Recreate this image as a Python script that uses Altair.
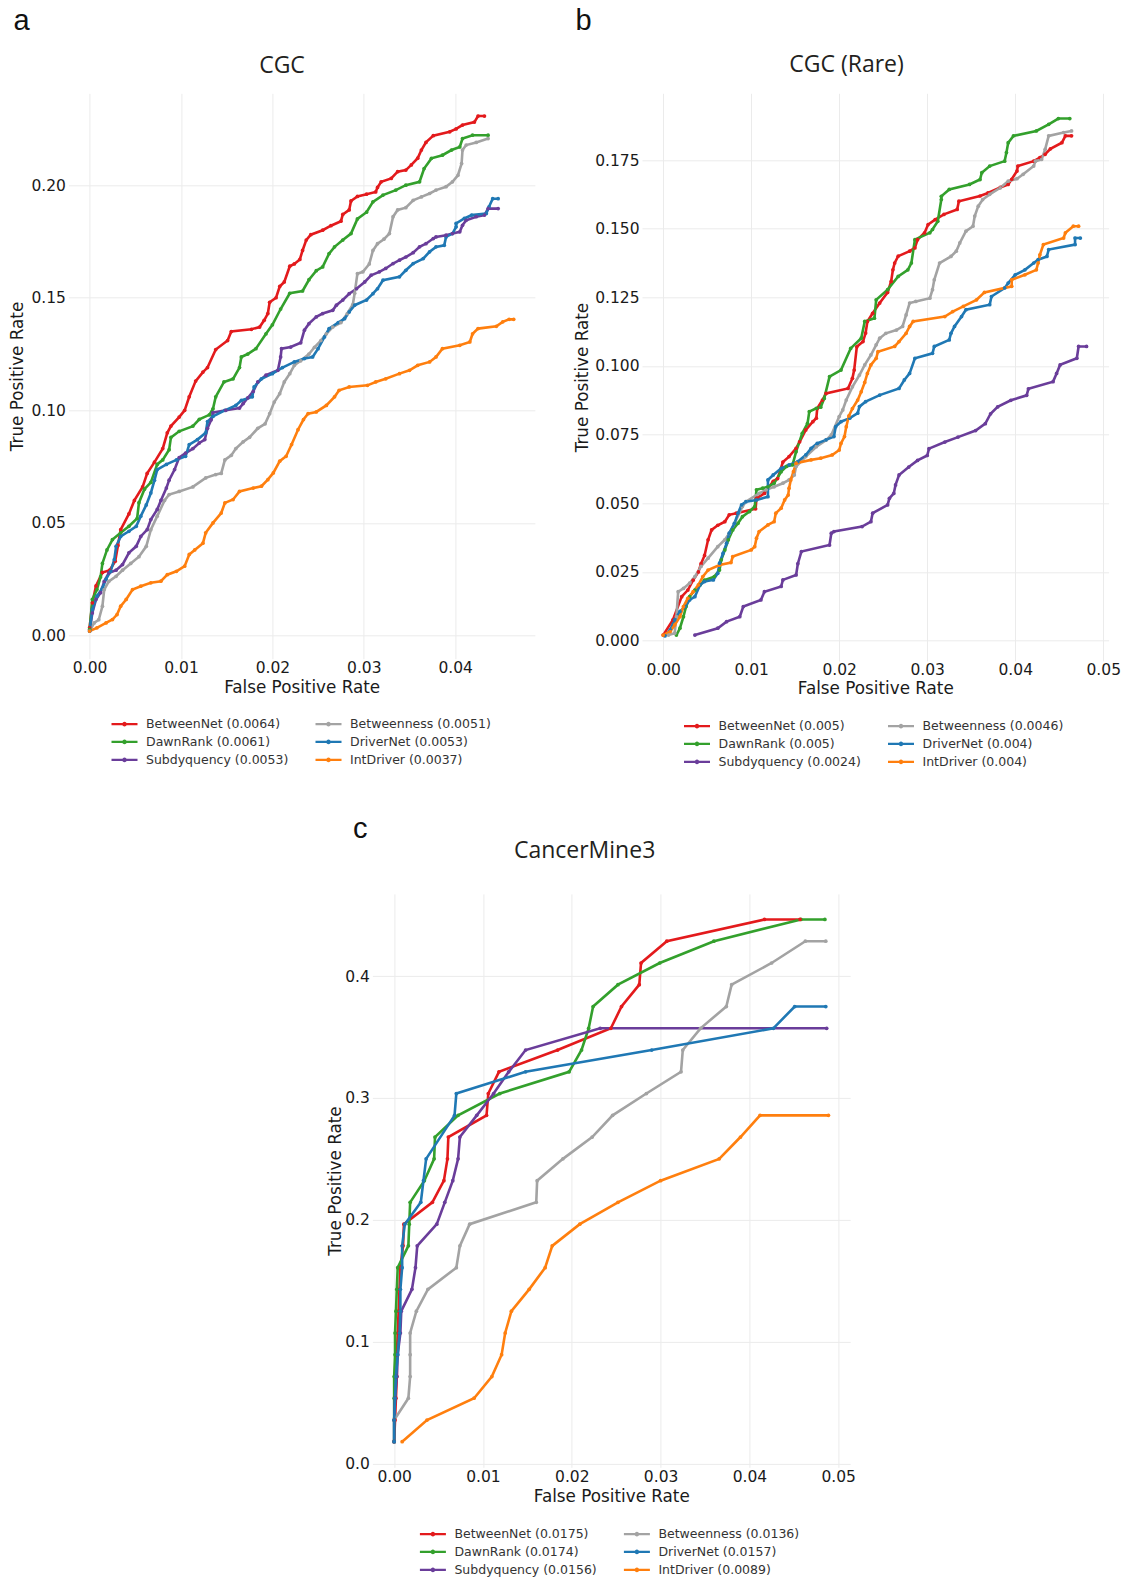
import altair as alt
import pandas as pd

# ---------------------------------------------------------------------------
# Methods, colours and legend layout
# ---------------------------------------------------------------------------
METHODS = ["BetweenNet", "DawnRank", "Subdyquency", "Betweenness", "DriverNet", "IntDriver"]
METHOD_COLORS = ["#e31a1c", "#33a02c", "#6a3d9a", "#a3a3a3", "#1f78b4", "#ff7f0e"]

# partial AUC shown next to each method name
cgc_auc = ["0.0064", "0.0061", "0.0053", "0.0051", "0.0053", "0.0037"]
rare_auc = ["0.005", "0.005", "0.0024", "0.0046", "0.004", "0.004"]
cm3_auc = ["0.0175", "0.0174", "0.0156", "0.0136", "0.0157", "0.0089"]

# ---------------------------------------------------------------------------
# ROC points (false positive rate, true positive rate) -- CGC
# ---------------------------------------------------------------------------
cgc_betweennet = [(0.0000, 0.0034), (0.0003, 0.0145), (0.0007, 0.0220), (0.0014, 0.0280), (0.0022, 0.0290),
                  (0.0028, 0.0330), (0.0031, 0.0400), (0.0034, 0.0470), (0.0043, 0.0540), (0.0049, 0.0600),
                  (0.0058, 0.0660), (0.0063, 0.0720), (0.0071, 0.0770), (0.0080, 0.0830), (0.0085, 0.0900),
                  (0.0089, 0.0930), (0.0098, 0.0970), (0.0104, 0.1000), (0.0109, 0.1060), (0.0116, 0.1130),
                  (0.0124, 0.1170), (0.0129, 0.1190), (0.0138, 0.1270), (0.0151, 0.1310), (0.0155, 0.1350),
                  (0.0177, 0.1360), (0.0186, 0.1370), (0.0191, 0.1400), (0.0195, 0.1430), (0.0197, 0.1480),
                  (0.0204, 0.1500), (0.0208, 0.1550), (0.0213, 0.1570), (0.0219, 0.1640), (0.0224, 0.1650),
                  (0.0230, 0.1670), (0.0233, 0.1710), (0.0237, 0.1756), (0.0242, 0.1780), (0.0255, 0.1800),
                  (0.0264, 0.1820), (0.0275, 0.1840), (0.0277, 0.1870), (0.0284, 0.1890), (0.0286, 0.1930),
                  (0.0293, 0.1950), (0.0303, 0.1960), (0.0313, 0.1970), (0.0315, 0.1990), (0.0319, 0.2015),
                  (0.0330, 0.2030), (0.0337, 0.2060), (0.0346, 0.2067), (0.0352, 0.2090), (0.0359, 0.2120),
                  (0.0363, 0.2156), (0.0368, 0.2190), (0.0376, 0.2220), (0.0394, 0.2237), (0.0401, 0.2250),
                  (0.0408, 0.2267), (0.0421, 0.2280), (0.0425, 0.2307), (0.0432, 0.2307)]
cgc_dawnrank = [(0.0000, 0.0027), (0.0003, 0.0160), (0.0008, 0.0204), (0.0012, 0.0260), (0.0014, 0.0320),
                (0.0019, 0.0380), (0.0025, 0.0426), (0.0034, 0.0456), (0.0043, 0.0485), (0.0052, 0.0520),
                (0.0054, 0.0590), (0.0060, 0.0650), (0.0067, 0.0680), (0.0074, 0.0760), (0.0080, 0.0780),
                (0.0087, 0.0825), (0.0089, 0.0880), (0.0098, 0.0907), (0.0113, 0.0930), (0.0120, 0.0960),
                (0.0131, 0.0980), (0.0135, 0.1007), (0.0138, 0.1060), (0.0147, 0.1126), (0.0157, 0.1140),
                (0.0164, 0.1190), (0.0166, 0.1237), (0.0173, 0.1250), (0.0182, 0.1274), (0.0193, 0.1340),
                (0.0200, 0.1380), (0.0209, 0.1450), (0.0219, 0.1520), (0.0233, 0.1530), (0.0240, 0.1580),
                (0.0248, 0.1620), (0.0255, 0.1637), (0.0262, 0.1696), (0.0268, 0.1726), (0.0277, 0.1756),
                (0.0286, 0.1785), (0.0293, 0.1850), (0.0303, 0.1880), (0.0310, 0.1926), (0.0321, 0.1956),
                (0.0335, 0.1978), (0.0346, 0.2000), (0.0361, 0.2015), (0.0366, 0.2074), (0.0374, 0.2119),
                (0.0386, 0.2133), (0.0396, 0.2156), (0.0405, 0.2170), (0.0408, 0.2207), (0.0419, 0.2222),
                (0.0436, 0.2222)]
cgc_subdyquency = [(0.0000, 0.0020), (0.0003, 0.0100), (0.0007, 0.0160), (0.0012, 0.0190), (0.0016, 0.0240),
                   (0.0021, 0.0278), (0.0029, 0.0290), (0.0036, 0.0315), (0.0043, 0.0367), (0.0051, 0.0396),
                   (0.0056, 0.0440), (0.0063, 0.0470), (0.0067, 0.0515), (0.0074, 0.0560), (0.0078, 0.0600),
                   (0.0084, 0.0655), (0.0087, 0.0690), (0.0093, 0.0737), (0.0098, 0.0790), (0.0105, 0.0810),
                   (0.0113, 0.0830), (0.0120, 0.0855), (0.0126, 0.0870), (0.0129, 0.0920), (0.0133, 0.0958),
                   (0.0135, 0.0990), (0.0149, 0.1000), (0.0164, 0.1010), (0.0168, 0.1030), (0.0173, 0.1055),
                   (0.0179, 0.1084), (0.0184, 0.1126), (0.0193, 0.1156), (0.0206, 0.1178), (0.0209, 0.1237),
                   (0.0210, 0.1274), (0.0220, 0.1281), (0.0231, 0.1300), (0.0235, 0.1356), (0.0240, 0.1385),
                   (0.0248, 0.1415), (0.0255, 0.1430), (0.0266, 0.1444), (0.0270, 0.1467), (0.0277, 0.1490),
                   (0.0284, 0.1518), (0.0292, 0.1540), (0.0301, 0.1570), (0.0308, 0.1600), (0.0317, 0.1615),
                   (0.0324, 0.1630), (0.0332, 0.1652), (0.0339, 0.1667), (0.0346, 0.1681), (0.0354, 0.1700),
                   (0.0361, 0.1726), (0.0368, 0.1740), (0.0376, 0.1763), (0.0379, 0.1770), (0.0390, 0.1778),
                   (0.0397, 0.1785), (0.0405, 0.1793), (0.0408, 0.1822), (0.0412, 0.1844), (0.0423, 0.1860),
                   (0.0432, 0.1867), (0.0436, 0.1896), (0.0447, 0.1896)]
cgc_betweenness = [(0.0000, 0.0020), (0.0005, 0.0056), (0.0010, 0.0070), (0.0014, 0.0130), (0.0016, 0.0204),
                   (0.0021, 0.0240), (0.0029, 0.0263), (0.0036, 0.0290), (0.0045, 0.0320), (0.0054, 0.0350),
                   (0.0062, 0.0396), (0.0067, 0.0470), (0.0074, 0.0530), (0.0082, 0.0600), (0.0087, 0.0626),
                   (0.0098, 0.0640), (0.0113, 0.0660), (0.0127, 0.0700), (0.0138, 0.0715), (0.0144, 0.0720),
                   (0.0148, 0.0780), (0.0155, 0.0800), (0.0160, 0.0830), (0.0168, 0.0860), (0.0175, 0.0880),
                   (0.0184, 0.0920), (0.0192, 0.0940), (0.0197, 0.0985), (0.0202, 0.1037), (0.0208, 0.1074),
                   (0.0213, 0.1126), (0.0219, 0.1163), (0.0224, 0.1200), (0.0231, 0.1220), (0.0240, 0.1250),
                   (0.0246, 0.1280), (0.0253, 0.1310), (0.0259, 0.1340), (0.0266, 0.1370), (0.0275, 0.1390),
                   (0.0282, 0.1430), (0.0288, 0.1470), (0.0290, 0.1520), (0.0293, 0.1607), (0.0299, 0.1615),
                   (0.0306, 0.1650), (0.0310, 0.1710), (0.0315, 0.1740), (0.0322, 0.1760), (0.0328, 0.1785),
                   (0.0332, 0.1860), (0.0337, 0.1890), (0.0346, 0.1900), (0.0354, 0.1933), (0.0363, 0.1948),
                   (0.0372, 0.1963), (0.0379, 0.1978), (0.0390, 0.1993), (0.0397, 0.2015), (0.0403, 0.2044),
                   (0.0407, 0.2096), (0.0408, 0.2156), (0.0412, 0.2178), (0.0423, 0.2190), (0.0436, 0.2207)]
cgc_drivernet = [(0.0000, 0.0020), (0.0003, 0.0115), (0.0008, 0.0175), (0.0014, 0.0210), (0.0018, 0.0250),
                 (0.0023, 0.0285), (0.0027, 0.0337), (0.0029, 0.0396), (0.0034, 0.0440), (0.0043, 0.0463),
                 (0.0051, 0.0485), (0.0056, 0.0530), (0.0062, 0.0580), (0.0067, 0.0633), (0.0071, 0.0690),
                 (0.0074, 0.0737), (0.0084, 0.0760), (0.0095, 0.0780), (0.0105, 0.0796), (0.0109, 0.0848),
                 (0.0118, 0.0870), (0.0127, 0.0900), (0.0129, 0.0950), (0.0135, 0.0973), (0.0148, 0.1000),
                 (0.0160, 0.1022), (0.0166, 0.1044), (0.0178, 0.1060), (0.0180, 0.1104), (0.0188, 0.1140),
                 (0.0200, 0.1163), (0.0211, 0.1190), (0.0224, 0.1215), (0.0235, 0.1230), (0.0244, 0.1237),
                 (0.0250, 0.1274), (0.0257, 0.1326), (0.0262, 0.1363), (0.0272, 0.1390), (0.0279, 0.1407),
                 (0.0284, 0.1437), (0.0290, 0.1467), (0.0303, 0.1490), (0.0310, 0.1518), (0.0315, 0.1540),
                 (0.0321, 0.1578), (0.0339, 0.1593), (0.0346, 0.1622), (0.0354, 0.1652), (0.0365, 0.1674),
                 (0.0372, 0.1704), (0.0379, 0.1726), (0.0388, 0.1733), (0.0390, 0.1770), (0.0397, 0.1785),
                 (0.0401, 0.1815), (0.0401, 0.1830), (0.0410, 0.1852), (0.0418, 0.1867), (0.0434, 0.1874),
                 (0.0437, 0.1904), (0.0441, 0.1940), (0.0447, 0.1940)]
cgc_intdriver = [(0.0000, 0.0020), (0.0008, 0.0034), (0.0018, 0.0056), (0.0025, 0.0071), (0.0030, 0.0093),
                 (0.0034, 0.0130), (0.0040, 0.0160), (0.0047, 0.0204), (0.0056, 0.0219), (0.0067, 0.0234),
                 (0.0078, 0.0241), (0.0085, 0.0270), (0.0095, 0.0285), (0.0104, 0.0308), (0.0109, 0.0360),
                 (0.0115, 0.0380), (0.0124, 0.0410), (0.0127, 0.0456), (0.0135, 0.0500), (0.0144, 0.0544),
                 (0.0148, 0.0589), (0.0157, 0.0604), (0.0164, 0.0640), (0.0179, 0.0655), (0.0188, 0.0663),
                 (0.0195, 0.0692), (0.0201, 0.0722), (0.0208, 0.0774), (0.0215, 0.0796), (0.0221, 0.0848),
                 (0.0228, 0.0914), (0.0234, 0.0959), (0.0239, 0.0985), (0.0248, 0.0993), (0.0259, 0.1022),
                 (0.0268, 0.1060), (0.0273, 0.1089), (0.0284, 0.1104), (0.0304, 0.1111), (0.0313, 0.1126),
                 (0.0324, 0.1140), (0.0339, 0.1163), (0.0350, 0.1178), (0.0359, 0.1200), (0.0372, 0.1215),
                 (0.0379, 0.1237), (0.0386, 0.1274), (0.0405, 0.1289), (0.0416, 0.1304), (0.0419, 0.1340),
                 (0.0425, 0.1363), (0.0445, 0.1373), (0.0452, 0.1393), (0.0459, 0.1404), (0.0464, 0.1404)]

# ---------------------------------------------------------------------------
# ROC points -- CGC (Rare)
# ---------------------------------------------------------------------------
rare_betweennet = [(0.0000, 0.0020), (0.0011, 0.0075), (0.0021, 0.0160), (0.0028, 0.0184), (0.0034, 0.0220),
                   (0.0040, 0.0250), (0.0043, 0.0280), (0.0047, 0.0310), (0.0051, 0.0367), (0.0055, 0.0403),
                   (0.0062, 0.0420), (0.0070, 0.0433), (0.0075, 0.0458), (0.0083, 0.0464), (0.0105, 0.0480),
                   (0.0106, 0.0518), (0.0115, 0.0536), (0.0125, 0.0580), (0.0130, 0.0590), (0.0136, 0.0650),
                   (0.0143, 0.0670), (0.0151, 0.0700), (0.0155, 0.0724), (0.0162, 0.0767), (0.0170, 0.0797),
                   (0.0174, 0.0810), (0.0175, 0.0845), (0.0181, 0.0876), (0.0185, 0.0900), (0.0210, 0.0918),
                   (0.0215, 0.0955), (0.0217, 0.0985), (0.0220, 0.1070), (0.0227, 0.1089), (0.0230, 0.1120),
                   (0.0232, 0.1162), (0.0238, 0.1192), (0.0246, 0.1229), (0.0255, 0.1268), (0.0259, 0.1308),
                   (0.0261, 0.1350), (0.0263, 0.1375), (0.0267, 0.1400), (0.0280, 0.1418), (0.0286, 0.1430),
                   (0.0289, 0.1460), (0.0297, 0.1485), (0.0301, 0.1515), (0.0309, 0.1533), (0.0319, 0.1552),
                   (0.0334, 0.1570), (0.0336, 0.1600), (0.0360, 0.1619), (0.0369, 0.1630), (0.0383, 0.1650),
                   (0.0392, 0.1661), (0.0396, 0.1680), (0.0402, 0.1710), (0.0403, 0.1728), (0.0421, 0.1746),
                   (0.0428, 0.1759), (0.0434, 0.1771), (0.0440, 0.1791), (0.0453, 0.1813), (0.0457, 0.1838),
                   (0.0464, 0.1838)]
rare_dawnrank = [(0.0015, 0.0020), (0.0019, 0.0045), (0.0023, 0.0087), (0.0026, 0.0124), (0.0030, 0.0160),
                 (0.0036, 0.0184), (0.0042, 0.0203), (0.0047, 0.0220), (0.0058, 0.0233), (0.0064, 0.0257),
                 (0.0066, 0.0294), (0.0070, 0.0330), (0.0074, 0.0367), (0.0079, 0.0403), (0.0085, 0.0427),
                 (0.0090, 0.0451), (0.0098, 0.0470), (0.0104, 0.0488), (0.0106, 0.0549), (0.0113, 0.0555),
                 (0.0119, 0.0560), (0.0126, 0.0573), (0.0134, 0.0615), (0.0140, 0.0634), (0.0147, 0.0640),
                 (0.0151, 0.0688), (0.0158, 0.0755), (0.0164, 0.0791), (0.0166, 0.0834), (0.0174, 0.0846),
                 (0.0179, 0.0850), (0.0183, 0.0882), (0.0189, 0.0961), (0.0202, 0.0985), (0.0213, 0.1064),
                 (0.0225, 0.1101), (0.0229, 0.1162), (0.0240, 0.1174), (0.0242, 0.1241), (0.0255, 0.1278),
                 (0.0267, 0.1326), (0.0278, 0.1350), (0.0282, 0.1375), (0.0286, 0.1460), (0.0303, 0.1485),
                 (0.0306, 0.1497), (0.0312, 0.1527), (0.0316, 0.1606), (0.0316, 0.1618), (0.0325, 0.1643),
                 (0.0348, 0.1661), (0.0360, 0.1679), (0.0362, 0.1704), (0.0371, 0.1728), (0.0388, 0.1746),
                 (0.0390, 0.1777), (0.0392, 0.1813), (0.0398, 0.1838), (0.0424, 0.1856), (0.0438, 0.1880),
                 (0.0449, 0.1901), (0.0462, 0.1901)]
rare_subdyquency = [(0.0036, 0.0020), (0.0062, 0.0045), (0.0072, 0.0069), (0.0087, 0.0087), (0.0091, 0.0124),
                    (0.0111, 0.0148), (0.0115, 0.0178), (0.0134, 0.0197), (0.0136, 0.0221), (0.0151, 0.0239),
                    (0.0153, 0.0280), (0.0157, 0.0324), (0.0189, 0.0348), (0.0191, 0.0391), (0.0194, 0.0397),
                    (0.0226, 0.0415), (0.0236, 0.0433), (0.0238, 0.0464), (0.0255, 0.0494), (0.0257, 0.0518),
                    (0.0262, 0.0536), (0.0264, 0.0567), (0.0268, 0.0603), (0.0279, 0.0632), (0.0289, 0.0656),
                    (0.0300, 0.0674), (0.0302, 0.0699), (0.0320, 0.0723), (0.0335, 0.0741), (0.0355, 0.0765),
                    (0.0366, 0.0790), (0.0372, 0.0826), (0.0380, 0.0851), (0.0395, 0.0875), (0.0413, 0.0893),
                    (0.0415, 0.0917), (0.0443, 0.0943), (0.0447, 0.0973), (0.0451, 0.1004), (0.0470, 0.1028),
                    (0.0472, 0.1071), (0.0481, 0.1071)]
rare_betweenness = [(0.0006, 0.0020), (0.0013, 0.0027), (0.0015, 0.0087), (0.0017, 0.0178), (0.0023, 0.0190),
                    (0.0030, 0.0209), (0.0036, 0.0233), (0.0043, 0.0270), (0.0051, 0.0300), (0.0062, 0.0342),
                    (0.0070, 0.0367), (0.0075, 0.0390), (0.0081, 0.0427), (0.0090, 0.0488), (0.0094, 0.0506),
                    (0.0109, 0.0536), (0.0117, 0.0549), (0.0126, 0.0560), (0.0136, 0.0573), (0.0143, 0.0585),
                    (0.0149, 0.0603), (0.0151, 0.0634), (0.0162, 0.0670), (0.0174, 0.0706), (0.0185, 0.0730),
                    (0.0191, 0.0749), (0.0200, 0.0816), (0.0204, 0.0840), (0.0208, 0.0876), (0.0215, 0.0924),
                    (0.0223, 0.0967), (0.0229, 0.1004), (0.0236, 0.1040), (0.0242, 0.1077), (0.0246, 0.1101),
                    (0.0253, 0.1119), (0.0265, 0.1131), (0.0272, 0.1144), (0.0276, 0.1186), (0.0280, 0.1229),
                    (0.0287, 0.1235), (0.0303, 0.1247), (0.0306, 0.1278), (0.0308, 0.1314), (0.0314, 0.1375),
                    (0.0327, 0.1399), (0.0333, 0.1418), (0.0337, 0.1448), (0.0344, 0.1491), (0.0352, 0.1509),
                    (0.0354, 0.1546), (0.0358, 0.1582), (0.0363, 0.1606), (0.0371, 0.1625), (0.0383, 0.1649),
                    (0.0392, 0.1673), (0.0402, 0.1682), (0.0409, 0.1698), (0.0421, 0.1728), (0.0423, 0.1746),
                    (0.0430, 0.1752), (0.0434, 0.1789), (0.0438, 0.1838), (0.0455, 0.1850), (0.0464, 0.1856)]
rare_drivernet = [(0.0002, 0.0017), (0.0008, 0.0039), (0.0013, 0.0075), (0.0019, 0.0106), (0.0025, 0.0124),
                  (0.0030, 0.0148), (0.0036, 0.0160), (0.0042, 0.0203), (0.0047, 0.0215), (0.0057, 0.0221),
                  (0.0062, 0.0245), (0.0064, 0.0282), (0.0068, 0.0318), (0.0072, 0.0354), (0.0075, 0.0391),
                  (0.0081, 0.0427), (0.0085, 0.0464), (0.0089, 0.0494), (0.0094, 0.0506), (0.0106, 0.0512),
                  (0.0119, 0.0524), (0.0119, 0.0585), (0.0125, 0.0603), (0.0134, 0.0627), (0.0143, 0.0640),
                  (0.0153, 0.0652), (0.0162, 0.0676), (0.0168, 0.0700), (0.0175, 0.0718), (0.0185, 0.0731),
                  (0.0194, 0.0743), (0.0196, 0.0779), (0.0202, 0.0797), (0.0212, 0.0810), (0.0221, 0.0828),
                  (0.0223, 0.0852), (0.0230, 0.0870), (0.0246, 0.0894), (0.0268, 0.0918), (0.0274, 0.0949),
                  (0.0280, 0.0973), (0.0286, 0.1028), (0.0306, 0.1046), (0.0308, 0.1071), (0.0325, 0.1095),
                  (0.0327, 0.1119), (0.0331, 0.1144), (0.0339, 0.1180), (0.0344, 0.1205), (0.0371, 0.1223),
                  (0.0373, 0.1253), (0.0388, 0.1284), (0.0392, 0.1302), (0.0400, 0.1332), (0.0411, 0.1350),
                  (0.0421, 0.1375), (0.0426, 0.1387), (0.0436, 0.1399), (0.0438, 0.1424), (0.0468, 0.1442),
                  (0.0468, 0.1466), (0.0474, 0.1466)]
rare_intdriver = [(0.0000, 0.0020), (0.0008, 0.0033), (0.0013, 0.0057), (0.0019, 0.0087), (0.0023, 0.0124),
                  (0.0028, 0.0154), (0.0034, 0.0178), (0.0040, 0.0203), (0.0045, 0.0233), (0.0051, 0.0257),
                  (0.0064, 0.0275), (0.0077, 0.0284), (0.0079, 0.0306), (0.0100, 0.0330), (0.0104, 0.0342),
                  (0.0106, 0.0373), (0.0109, 0.0397), (0.0119, 0.0421), (0.0126, 0.0433), (0.0128, 0.0464),
                  (0.0134, 0.0482), (0.0138, 0.0512), (0.0142, 0.0530), (0.0143, 0.0555), (0.0145, 0.0585),
                  (0.0148, 0.0615), (0.0151, 0.0646), (0.0168, 0.0658), (0.0179, 0.0664), (0.0192, 0.0676),
                  (0.0200, 0.0694), (0.0202, 0.0718), (0.0206, 0.0743), (0.0208, 0.0779), (0.0211, 0.0818),
                  (0.0215, 0.0845), (0.0221, 0.0876), (0.0225, 0.0906), (0.0229, 0.0940), (0.0232, 0.0973),
                  (0.0236, 0.1004), (0.0242, 0.1028), (0.0244, 0.1052), (0.0263, 0.1071), (0.0268, 0.1089),
                  (0.0276, 0.1119), (0.0280, 0.1144), (0.0284, 0.1162), (0.0320, 0.1180), (0.0329, 0.1198),
                  (0.0341, 0.1217), (0.0356, 0.1241), (0.0365, 0.1268), (0.0396, 0.1290), (0.0396, 0.1314),
                  (0.0411, 0.1332), (0.0424, 0.1350), (0.0426, 0.1375), (0.0428, 0.1405), (0.0432, 0.1442),
                  (0.0455, 0.1466), (0.0457, 0.1485), (0.0466, 0.1509), (0.0472, 0.1509)]

# ---------------------------------------------------------------------------
# ROC points -- CancerMine3
# ---------------------------------------------------------------------------
cm3_betweennet = [(0.0000, 0.0179), (0.0001, 0.0357), (0.0002, 0.0536), (0.0003, 0.0714), (0.0003, 0.0893),
                  (0.0004, 0.1071), (0.0005, 0.1250), (0.0006, 0.1429), (0.0007, 0.1607), (0.0010, 0.1786),
                  (0.0011, 0.1964), (0.0043, 0.2143), (0.0056, 0.2321), (0.0060, 0.2500), (0.0061, 0.2679),
                  (0.0104, 0.2857), (0.0106, 0.3036), (0.0118, 0.3214), (0.0184, 0.3393), (0.0244, 0.3571),
                  (0.0256, 0.3750), (0.0276, 0.3929), (0.0278, 0.4107), (0.0307, 0.4286), (0.0417, 0.4464),
                  (0.0457, 0.4464)]
cm3_dawnrank = [(0.0000, 0.0179), (0.0000, 0.0357), (0.0000, 0.0536), (0.0000, 0.0714), (0.0001, 0.0893),
                (0.0001, 0.1071), (0.0002, 0.1250), (0.0003, 0.1429), (0.0004, 0.1607), (0.0016, 0.1786),
                (0.0017, 0.1964), (0.0018, 0.2143), (0.0034, 0.2321), (0.0045, 0.2500), (0.0046, 0.2679),
                (0.0072, 0.2857), (0.0119, 0.3036), (0.0197, 0.3214), (0.0211, 0.3393), (0.0219, 0.3571),
                (0.0224, 0.3750), (0.0252, 0.3929), (0.0299, 0.4107), (0.0360, 0.4286), (0.0458, 0.4464),
                (0.0485, 0.4464)]
cm3_subdyquency = [(0.0000, 0.0179), (0.0000, 0.0357), (0.0001, 0.0536), (0.0003, 0.0714), (0.0004, 0.0893),
                   (0.0007, 0.1071), (0.0008, 0.1250), (0.0020, 0.1429), (0.0024, 0.1607), (0.0026, 0.1786),
                   (0.0048, 0.1964), (0.0057, 0.2143), (0.0066, 0.2321), (0.0072, 0.2500), (0.0074, 0.2679),
                   (0.0093, 0.2857), (0.0112, 0.3036), (0.0129, 0.3214), (0.0148, 0.3393), (0.0232, 0.3571),
                   (0.0487, 0.3571)]
cm3_betweenness = [(0.0000, 0.0357), (0.0016, 0.0536), (0.0018, 0.0714), (0.0018, 0.0893), (0.0018, 0.1071),
                   (0.0025, 0.1250), (0.0038, 0.1429), (0.0070, 0.1607), (0.0074, 0.1786), (0.0085, 0.1964),
                   (0.0160, 0.2143), (0.0161, 0.2321), (0.0190, 0.2500), (0.0223, 0.2679), (0.0246, 0.2857),
                   (0.0284, 0.3036), (0.0323, 0.3214), (0.0325, 0.3393), (0.0345, 0.3571), (0.0374, 0.3750),
                   (0.0380, 0.3929), (0.0425, 0.4107), (0.0463, 0.4286), (0.0486, 0.4286)]
cm3_drivernet = [(0.0000, 0.0179), (0.0000, 0.0357), (0.0001, 0.0536), (0.0002, 0.0714), (0.0004, 0.0893),
                 (0.0006, 0.1071), (0.0007, 0.1250), (0.0007, 0.1429), (0.0009, 0.1607), (0.0009, 0.1786),
                 (0.0012, 0.1964), (0.0030, 0.2143), (0.0033, 0.2321), (0.0036, 0.2500), (0.0068, 0.2857),
                 (0.0070, 0.3036), (0.0148, 0.3214), (0.0290, 0.3393), (0.0427, 0.3571), (0.0451, 0.3750),
                 (0.0486, 0.3750)]
cm3_intdriver = [(0.0009, 0.0179), (0.0037, 0.0357), (0.0090, 0.0536), (0.0110, 0.0714), (0.0121, 0.0893),
                 (0.0125, 0.1071), (0.0132, 0.1250), (0.0152, 0.1429), (0.0170, 0.1607), (0.0178, 0.1786),
                 (0.0209, 0.1964), (0.0252, 0.2143), (0.0300, 0.2321), (0.0366, 0.2500), (0.0390, 0.2679),
                 (0.0412, 0.2857), (0.0489, 0.2857)]

cgc_curves = [cgc_betweennet, cgc_dawnrank, cgc_subdyquency, cgc_betweenness, cgc_drivernet, cgc_intdriver]
rare_curves = [rare_betweennet, rare_dawnrank, rare_subdyquency, rare_betweenness, rare_drivernet, rare_intdriver]
cm3_curves = [cm3_betweennet, cm3_dawnrank, cm3_subdyquency, cm3_betweenness, cm3_drivernet, cm3_intdriver]

# line glyph with a dot in the middle, for the legend
LEGEND_SYMBOL = "M-2,0H2M-0.17,0A0.17,0.17,0,1,0,0.17,0A0.17,0.17,0,1,0,-0.17,0"
INK = "#1a1a1a"


def curve_frame(curves, aucs):
    rows = []
    for method, auc, pts in zip(METHODS, aucs, curves):
        label = f"{method} ({auc})"
        for i, (fpr, tpr) in enumerate(pts):
            rows.append({"method": method, "label": label, "fpr": fpr, "tpr": tpr, "idx": i})
    return pd.DataFrame(rows)


def roc_panel(curves, aucs, title, letter, width, height, x_domain, y_domain, x_ticks, y_ticks,
              y_format, y_title_x, x_title_y, legend_x, legend_y, title_xy, letter_xy):
    df = curve_frame(curves, aucs)
    # the legend grid is filled column by column
    legend_labels = [f"{m} ({a})" for m, a in zip(METHODS, aucs)]

    lines = alt.Chart(df).mark_line(
        strokeWidth=2.6,
        point=alt.OverlayMarkDef(size=14, filled=True, opacity=1),
    ).encode(
        x=alt.X("fpr:Q",
                scale=alt.Scale(domain=x_domain, nice=False, zero=False),
                axis=alt.Axis(values=x_ticks, format=".2f", title="False Positive Rate",
                              labelPadding=2, titleX=width / 2, titleY=x_title_y,
                              titleBaseline="middle", titleAlign="center")),
        y=alt.Y("tpr:Q",
                scale=alt.Scale(domain=y_domain, nice=False, zero=False),
                axis=alt.Axis(values=y_ticks, format=y_format, title="True Positive Rate",
                              labelPadding=3, titleX=y_title_x, titleY=height / 2, titleAngle=270,
                              titleBaseline="middle", titleAlign="center")),
        color=alt.Color("label:N",
                        scale=alt.Scale(domain=legend_labels, range=METHOD_COLORS),
                        legend=alt.Legend(title=None, orient="none", legendX=legend_x, legendY=legend_y,
                                          columns=2, columnPadding=22, rowPadding=3, padding=0,
                                          symbolType=LEGEND_SYMBOL, symbolSize=169, symbolStrokeWidth=2.4,
                                          labelOffset=13.5, labelFont="DejaVu Sans", labelFontSize=12.5,
                                          labelColor="#333333", labelLimit=300)),
        order=alt.Order("idx:Q"),
        detail="method:N",
    )

    heading = alt.Chart(pd.DataFrame({"t": [title]})).mark_text(
        font="Open Sans", fontSize=23, align="center", baseline="alphabetic", color="#231f20"
    ).encode(text="t:N", x=alt.value(title_xy[0]), y=alt.value(title_xy[1]))

    tag = alt.Chart(pd.DataFrame({"t": [letter]})).mark_text(
        font="Liberation Sans", fontSize=29, align="left", baseline="alphabetic", color="#111111"
    ).encode(text="t:N", x=alt.value(letter_xy[0]), y=alt.value(letter_xy[1]))

    return alt.layer(lines, heading, tag).properties(width=width, height=height)


panel_a = roc_panel(
    cgc_curves, cgc_auc, "CGC", "a", width=466.5, height=565.4,
    x_domain=[-0.00232, 0.04872], y_domain=[-0.0103, 0.2408],
    x_ticks=[0.0, 0.01, 0.02, 0.03, 0.04], y_ticks=[0.0, 0.05, 0.10, 0.15, 0.20], y_format=".2f",
    y_title_x=-51.3, x_title_y=28.3, legend_x=48.1, legend_y=622.6,
    title_xy=(213.6, -20.8), letter_xy=(-54.9, -63.8),
)

panel_b = roc_panel(
    rare_curves, rare_auc, "CGC (Rare)", "b", width=466.6, height=567.6,
    x_domain=[-0.00241, 0.05061], y_domain=[-0.0074, 0.1993],
    x_ticks=[0.0, 0.01, 0.02, 0.03, 0.04, 0.05], y_ticks=[0.0, 0.025, 0.05, 0.075, 0.10, 0.125, 0.15, 0.175],
    y_format=".3f", y_title_x=-59.3, x_title_y=28.0, legend_x=47.0, legend_y=624.6,
    title_xy=(204.5, -21.0), letter_xy=(-66.5, -63.3),
)

panel_c = roc_panel(
    cm3_curves, cm3_auc, "CancerMine3", "c", width=477.8, height=573.4,
    x_domain=[-0.00245, 0.05135], y_domain=[-0.0031, 0.4674],
    x_ticks=[0.0, 0.01, 0.02, 0.03, 0.04, 0.05], y_ticks=[0.0, 0.1, 0.2, 0.3, 0.4], y_format=".1f",
    y_title_x=-36.6, x_title_y=29.4, legend_x=52.5, legend_y=632.0,
    title_xy=(212.2, -35.9), letter_xy=(-19.5, -55.9),
)

# empty cell that shifts the bottom panel to the right
shift = alt.Chart(pd.DataFrame({"v": [0]})).mark_point(opacity=0).encode(
    x=alt.X("v:Q", axis=None), y=alt.Y("v:Q", axis=None)
).properties(width=303.6, height=10)

top_row = alt.hconcat(panel_a, panel_b, spacing=106.6, bounds="flush").resolve_scale(color="independent")
bottom_row = alt.hconcat(shift, panel_c, spacing=0, bounds="flush").resolve_scale(color="independent")

# the flush top row contributes no height of its own, so the gap spans it
chart = alt.vconcat(top_row, bottom_row, spacing=800.6, bounds="flush").resolve_scale(
    color="independent"
).properties(
    autosize=alt.AutoSizeParams(type="none"),
    padding={"left": 68.4, "top": 93.3, "right": 1060.6, "bottom": 1485.7},
    background="white",
).configure_view(
    stroke=None
).configure_axis(
    grid=True, gridColor="#ebebeb", gridWidth=1, domain=False, ticks=False, tickSize=0,
    labelFont="DejaVu Sans", labelFontSize=15.5, labelColor=INK, labelOverlap=False, labelFlush=False,
    titleFont="DejaVu Sans", titleFontSize=16.8, titleFontWeight="normal", titleColor=INK,
)

chart.save("out.html", embed_options={"renderer": "svg", "actions": False})
